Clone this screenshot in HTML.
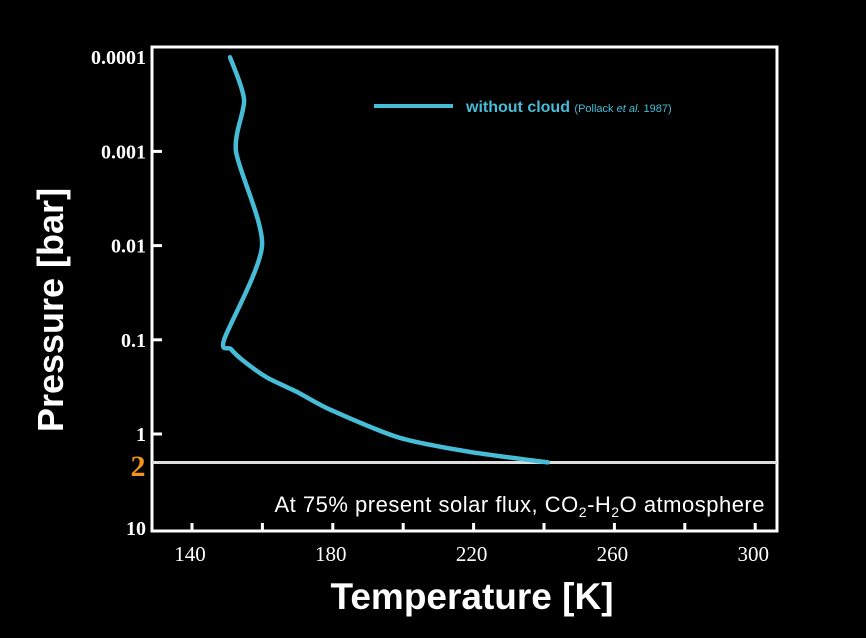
<!DOCTYPE html>
<html><head><meta charset="utf-8"><style>
html,body{margin:0;padding:0;background:#000;width:866px;height:638px;overflow:hidden}
svg{display:block;font-family:"Liberation Serif",serif}
</style></head><body>
<svg id="c" width="866" height="638">
<text x="63" y="310" transform="rotate(-90 63 310)" text-anchor="middle" fill="#fff" font-family="Liberation Sans,sans-serif" font-weight="bold" font-size="36">Pressure [bar]</text>
<text x="472" y="609" text-anchor="middle" fill="#fff" font-family="Liberation Sans,sans-serif" font-weight="bold" font-size="37">Temperature [K]</text>
<rect x="152" y="47" width="625" height="484" fill="none" stroke="#fff" stroke-width="3"/>
<line x1="152" y1="462.5" x2="777" y2="462.5" stroke="#ddd" stroke-width="3"/>
<text x="138" y="476" text-anchor="middle" fill="#f0921e" font-weight="bold" font-size="30">2</text>
<text x="765" y="512" text-anchor="end" fill="#fff" font-family="Liberation Sans,sans-serif" font-size="22" letter-spacing="0.5">At 75% present solar flux, CO<tspan font-size="14" dy="5">2</tspan><tspan dy="-5">-H</tspan><tspan font-size="14" dy="5">2</tspan><tspan dy="-5">O atmosphere</tspan></text>
<line x1="374" y1="106" x2="453" y2="106" stroke="#47bcd6" stroke-width="4"/>
<text x="466" y="112" fill="#47bcd6" font-family="Liberation Sans,sans-serif" font-weight="bold" font-size="16">without cloud <tspan font-weight="normal" font-size="11">(Pollack <tspan font-style="italic">et al.</tspan> 1987)</tspan></text>
<g id="ax"></g>
<path id="curve" fill="none" stroke="#47bcd6" stroke-width="4.5" stroke-linecap="round"/>
</svg>
<script>
const xTicks=[140,160,180,200,220,240,260,280,300];
const xTickLabels=["140","180","220","260","300"];
const yTicks=[0.0001,0.001,0.01,0.1,1,10];
const yTickLabels=["0.0001","0.001","0.01","0.1","1","10"];
const temps=[150.8,154.8,152.5,159.9,149.1,151.0,154.4,161.2,170.0,179.2,199.1,219.0,241.1];
const pressures=[0.0001,0.000284,0.001,0.01,0.1,0.125,0.165,0.25,0.36,0.55,1.1,1.55,2.0];
const X=t=>192+(t-140)*3.52;
const Y=p=>434+Math.log10(p)*94.2;
const ns="http://www.w3.org/2000/svg";
const ax=document.getElementById('ax');
function mk(tag,attrs){const e=document.createElementNS(ns,tag);for(const k in attrs)e.setAttribute(k,attrs[k]);ax.appendChild(e);return e;}
xTicks.forEach(t=>{const l=mk('line',{x1:X(t),x2:X(t),y1:531,y2:523,stroke:'#fff','stroke-width':3});

});
xTickLabels.forEach(s=>{const e=mk('text',{x:X(+s)-2,y:561,'text-anchor':'middle',fill:'#fff','font-size':21});e.textContent=s;

});
yTicks.forEach((p,i)=>{if(i>0&&i<5){const l=mk('line',{x1:152,x2:162,y1:Y(p),y2:Y(p),stroke:'#fff','stroke-width':3});

}
const e=mk('text',{x:146,y:Y(p)+7,'text-anchor':'end',fill:'#fff','font-size':20,'font-weight':'bold'});e.textContent=yTickLabels[i];

});
const pts=temps.map((t,i)=>[X(t),Y(pressures[i])]);
let d=`M${pts[0][0]},${pts[0][1]}`;
const k=8;
for(let i=0;i<pts.length-1;i++){const p0=pts[Math.max(0,i-1)],p1=pts[i],p2=pts[i+1],p3=pts[Math.min(pts.length-1,i+2)];
d+=` C${p1[0]+(p2[0]-p0[0])/k},${p1[1]+(p2[1]-p0[1])/k} ${p2[0]-(p3[0]-p1[0])/k},${p2[1]-(p3[1]-p1[1])/k} ${p2[0]},${p2[1]}`;}
document.getElementById('curve').setAttribute('d',d);
</script>
</body></html>
